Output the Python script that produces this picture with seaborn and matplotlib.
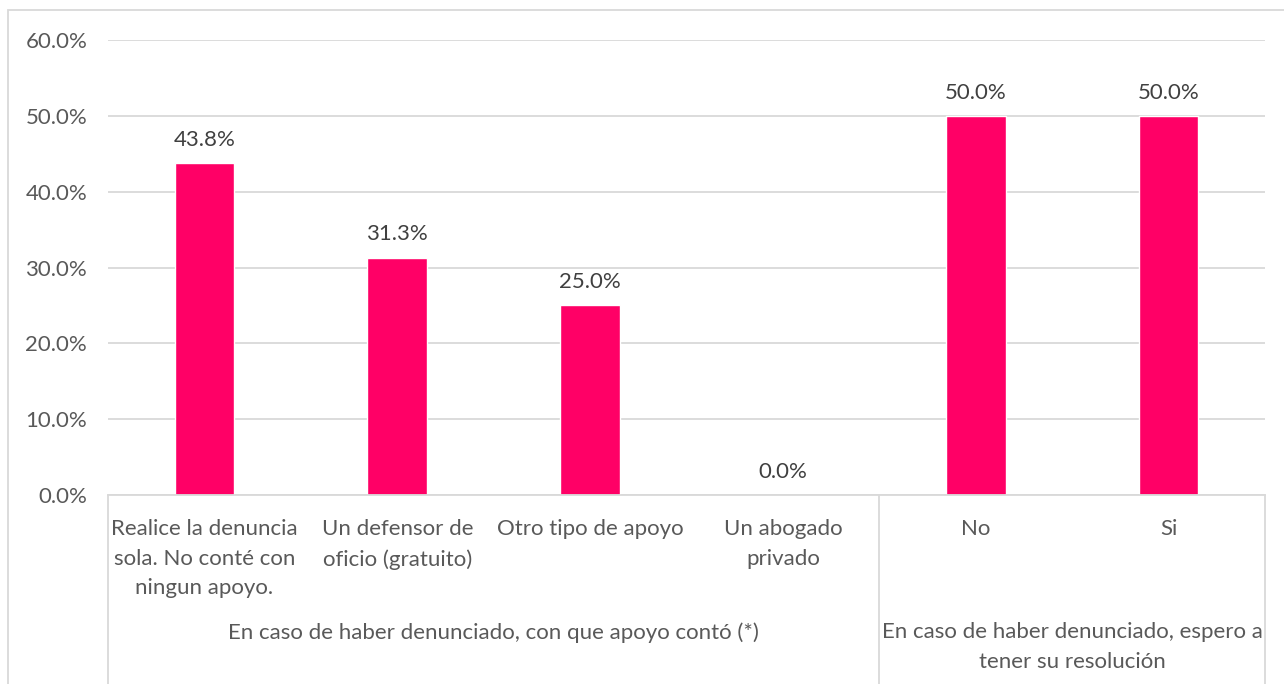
"""Bar chart: apoyo al denunciar, with two-level category axis."""

import matplotlib.pyplot as plt
import matplotlib.transforms as mtransforms
from matplotlib.patches import Rectangle
import pandas as pd
import seaborn as sns

categories = [
    "Realice la denuncia\nsola. No conté con\nningun apoyo.",
    "Un defensor de\noficio (gratuito)",
    "Otro tipo de apoyo",
    "Un abogado\nprivado",
    "No",
    "Si",
]
values = [0.438, 0.313, 0.25, 0.0, 0.50, 0.50]
groups = [
    "En caso de haber denunciado, con que apoyo contó (*)",
    "En caso de haber denunciado, espero a\ntener su resolución",
]
group_sizes = [4, 2]
y_ticks = [0.0, 0.1, 0.2, 0.3, 0.4, 0.5, 0.6]

BAR = "#FF0066"
TEXT = "#595959"
GRID = "#D9D9D9"
FS = 16

sns.set_theme(style="white")
plt.rcParams["font.family"] = ["Lato", "DejaVu Sans"]

df = pd.DataFrame({"cat": categories, "value": values})

fig = plt.figure(figsize=(12.84, 6.84), dpi=100)
ax = fig.add_axes([108 / 1284, 1 - 495 / 684, (1265 - 108) / 1284, 455 / 684])

sns.barplot(data=df, x="cat", y="value", color=BAR, width=0.31, saturation=1, ax=ax)

ax.set_ylim(0, 0.6)
ax.set_xlim(-0.5, len(categories) - 0.5)
ax.set_yticks(y_ticks)
ax.set_yticklabels([f"{t * 100:.1f}%" for t in y_ticks], color=TEXT, fontsize=FS)
ax.tick_params(axis="y", length=0, pad=15)
ax.set_xticks([])
ax.set_xlabel("")
ax.set_ylabel("")
ax.grid(axis="y", color=GRID, linewidth=1.3)
ax.set_axisbelow(True)
for side in ["top", "right", "left"]:
    ax.spines[side].set_visible(False)
ax.spines["bottom"].set_color(GRID)
ax.spines["bottom"].set_linewidth(1.3)

# value labels
for i, v in enumerate(values):
    ax.annotate(f"{v * 100:.1f}%", (i, v), xytext=(0, 9.5), textcoords="offset points",
                ha="center", va="bottom", fontsize=FS, color="#404040")

# two-level category axis
trans = mtransforms.blended_transform_factory(ax.transData, ax.transAxes)
for i, lab in enumerate(categories):
    ax.text(i, -0.052, lab, transform=trans, ha="center", va="top", fontsize=FS,
            color=TEXT, linespacing=1.62, multialignment="center")

start = 0
seps = [-0.5]
for g, n in zip(groups, group_sizes):
    mid = start + (n - 1) / 2
    ax.text(mid, -0.28, g, transform=trans, ha="center", va="top", fontsize=FS,
            color=TEXT, linespacing=1.62, multialignment="center")
    start += n
    seps.append(start - 0.5)
for s in seps:
    ax.plot([s, s], [0, -0.45], transform=trans, color=GRID, linewidth=1.3, clip_on=False)

# chart border
fig.patches.append(Rectangle((8 / 1284, -0.1), 1.2, 1 - 10 / 684 + 0.1, transform=fig.transFigure,
                             fill=False, edgecolor=GRID, linewidth=1.3))

fig.savefig("out.png", dpi=100)
